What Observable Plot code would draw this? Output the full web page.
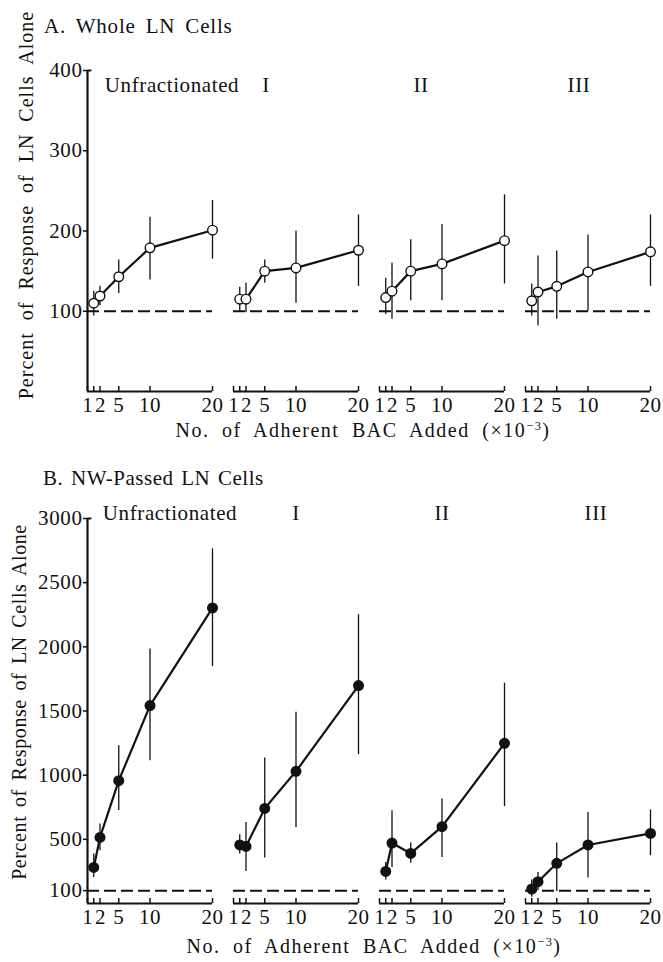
<!DOCTYPE html>
<html><head><meta charset="utf-8">
<script src="https://cdn.jsdelivr.net/npm/d3@7"></script>
<script src="https://cdn.jsdelivr.net/npm/@observablehq/plot@0.6"></script>
<style>
body{margin:0;background:#fff;}
#page{position:relative;width:663px;height:962px;overflow:hidden;font-family:"Liberation Serif","Times New Roman",serif;color:#111;background:#fff;}
#page svg text{letter-spacing:0.6px;}
.t{position:absolute;white-space:nowrap;font-size:20px;line-height:1;}
.panel{position:absolute;left:0;}
sup{font-size:0.62em;vertical-align:0.55em;line-height:0;}
</style></head><body>
<div id="page">
  <div id="panelA" class="panel" style="top:0"></div>
  <div id="panelB" class="panel" style="top:450px"></div>
  <div class="t" style="left:44px;top:16px;font-size:21px;letter-spacing:0.8px;word-spacing:4px">A. Whole LN Cells</div>
  <div class="t" style="left:43px;top:468px;font-size:21px;letter-spacing:0.5px;word-spacing:2px">B. NW-Passed LN Cells</div>
  <div class="t" style="left:26px;top:205px;transform:translate(-50%,-50%) rotate(-90deg);letter-spacing:1px;word-spacing:6px">Percent of Response of LN Cells Alone</div>
  <div class="t" style="left:19px;top:702px;transform:translate(-50%,-50%) rotate(-90deg);letter-spacing:0.6px;word-spacing:3px">Percent of Response of LN Cells Alone</div>
  <div class="t" style="left:363px;top:420px;transform:translateX(-50%);letter-spacing:1.5px;word-spacing:6px">No. of Adherent BAC Added (×10<sup>−3</sup>)</div>
  <div class="t" style="left:374px;top:936px;transform:translateX(-50%);letter-spacing:1.5px;word-spacing:6px">No. of Adherent BAC Added (×10<sup>−3</sup>)</div>
</div>
<script>
// ---- data ----
const groups = ["Unfractionated", "I", "II", "III"];
const doses = [1, 2, 5, 10, 20];
const ticksA = [100, 200, 300, 400];
const ticksB = [100, 500, 1000, 1500, 2000, 2500, 3000];

// A. Whole LN cells (rows follow groups, columns follow doses)
const wholeMean = [
  [110, 119, 143, 179, 201],
  [115, 115, 150, 154, 176],
  [117, 125, 150, 159, 188],
  [113, 124, 131, 149, 174]
];
const wholeLow = [
  [94, 107, 122, 139, 165],
  [100, 98, 135, 110, 131],
  [96, 90, 113, 113, 134],
  [94, 82, 90, 100, 131]
];
const wholeHigh = [
  [125, 131, 164, 217, 238],
  [130, 135, 164, 200, 220],
  [141, 160, 189, 208, 245],
  [134, 169, 175, 195, 220]
];

// B. NW-passed LN cells
const nwMean = [
  [281, 515, 957, 1542, 2303],
  [456, 445, 741, 1030, 1698],
  [250, 471, 390, 599, 1248],
  [113, 170, 313, 456, 546]
];
const nwLow = [
  [203, 411, 724, 1113, 1846],
  [386, 250, 355, 593, 1160],
  [183, 281, 313, 359, 755],
  [48, 100, 94, 199, 373]
];
const nwHigh = [
  [386, 620, 1230, 1984, 2763],
  [536, 632, 1134, 1490, 2251],
  [320, 723, 472, 814, 1716],
  [183, 242, 472, 710, 729]
];

function rowsOf(mean, low, high) {
  const out = [];
  groups.forEach((g, i) => doses.forEach((d, j) => out.push({group: g, dose: d, mean: mean[i][j], lo: low[i][j], hi: high[i][j]})));
  return out;
}

function panel({rows, yMax, yTicks, height, marginTop, marginBottom, fill, labelDx, labelDy}) {
  const frameH = height - marginTop - marginBottom;
  const unit = yMax / frameH;
  const ink = "#111";
  return Plot.plot({
    width: 663, height, marginLeft: 87, marginRight: 13, marginTop, marginBottom,
    style: {fontFamily: "'Liberation Serif', 'Times New Roman', serif", fontSize: "21px", color: ink, background: "white", overflow: "visible"},
    fx: {domain: groups, paddingInner: 0.144, paddingOuter: 0, axis: null},
    x: {domain: [0, 20], axis: null},
    y: {domain: [0, yMax], axis: null},
    marks: [
      Plot.axisY(yTicks, {tickSize: 4, tickPadding: 1, tickFormat: "d", label: null, strokeWidth: 1.5}),
      Plot.ruleX([groups[0]], {fx: d => d, x: 0, y1: 0, y2: yMax, strokeWidth: 2.2, stroke: ink}),
      Plot.ruleY([yMax], {fx: () => groups[0], x1: 0, x2: 0.7, strokeWidth: 2, stroke: ink}),
      Plot.ruleY([0], {x1: 0, x2: 20, strokeWidth: 2.2, stroke: ink}),
      Plot.ruleX([0, ...doses], {x: d => d, y1: 0, y2: 5 * unit, strokeWidth: 1.5, stroke: ink}),
      Plot.axisX([1], {tickSize: 0, tickPadding: 6, tickFormat: "d", label: null, dx: -6}),
      Plot.axisX([2], {tickSize: 0, tickPadding: 6, tickFormat: "d", label: null, dx: 0.5}),
      Plot.axisX([5, 10, 20], {tickSize: 0, tickPadding: 6, tickFormat: "d", label: null}),
      Plot.ruleY([100], {x1: 0, x2: 20, strokeDasharray: "12,5", strokeWidth: 2, stroke: ink}),
      Plot.ruleX(rows, {fx: "group", x: "dose", y1: "lo", y2: "hi", strokeWidth: 1.3, stroke: ink}),
      Plot.line(rows, {fx: "group", x: "dose", y: "mean", strokeWidth: 2.2, stroke: ink}),
      Plot.dot(rows, {fx: "group", x: "dose", y: "mean", r: 4.8, fill, stroke: ink, strokeWidth: 1.4}),
      ...groups.map((g, i) => Plot.text([g], {fx: d => d, text: d => d, frameAnchor: "top", lineAnchor: "middle", dx: labelDx[i], dy: labelDy, fontSize: 21, fill: ink}))
    ]
  });
}

document.getElementById("panelA").append(panel({
  rows: rowsOf(wholeMean, wholeLow, wholeHigh), yMax: 400, yTicks: ticksA,
  height: 430, marginTop: 70, marginBottom: 39, fill: "white",
  labelDx: [22, -30, -21, -9], labelDy: 15
}));
document.getElementById("panelB").append(panel({
  rows: rowsOf(nwMean, nwLow, nwHigh), yMax: 3000, yTicks: ticksB,
  height: 485, marginTop: 68, marginBottom: 32, fill: "#111",
  labelDx: [20, 0, 0, 8], labelDy: -5
}));
</script>
</body></html>
